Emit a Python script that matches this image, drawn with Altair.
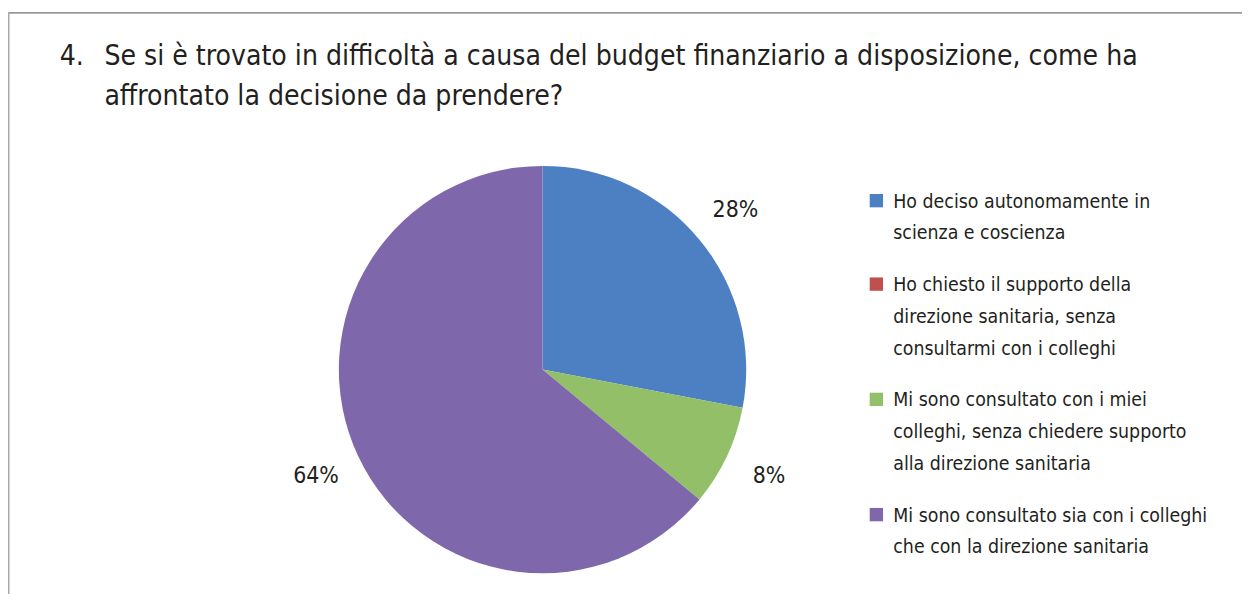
import altair as alt
import pandas as pd

# ---- data ----
title_num = "4."
title_lines = [
    "Se si è trovato in difficoltà a causa del budget finanziario a disposizione, come ha",
    "affrontato la decisione da prendere?",
]
categories = [
    "Ho deciso autonomamente in scienza e coscienza",
    "Ho chiesto il supporto della direzione sanitaria, senza consultarmi con i colleghi",
    "Mi sono consultato con i miei colleghi, senza chiedere supporto alla direzione sanitaria",
    "Mi sono consultato sia con i colleghi che con la direzione sanitaria",
]
legend_lines = [
    ["Ho deciso autonomamente in", "scienza e coscienza"],
    ["Ho chiesto il supporto della", "direzione sanitaria, senza", "consultarmi con i colleghi"],
    ["Mi sono consultato con i miei", "colleghi, senza chiedere supporto", "alla direzione sanitaria"],
    ["Mi sono consultato sia con i colleghi", "che con la direzione sanitaria"],
]
values = [28, 0, 8, 64]
colors = ["#4C80C2", "#C0504D", "#93BF68", "#7E67AA"]

# ---- layout / style ----
W, H = 1242, 588
FONT = "Liberation Sans Narrow, Arial Narrow, DejaVu Sans Condensed, sans-serif"
TXT = "#231f20"
CX, CY, R = 538, 362, 205
LEG_X, LEG_Y0, LEG_LH, LEG_GAP = 874, 199, 32, 20

pie_df = pd.DataFrame({
    "cat": categories,
    "value": values,
    "order": list(range(len(values))),
    "label": [f"{v}%" for v in values],
})

color_scale = alt.Scale(domain=categories, range=colors)

base = alt.Chart(pie_df).encode(
    theta=alt.Theta("value:Q", stack=True),
    order=alt.Order("order:Q"),
)

arcs = base.mark_arc(outerRadius=R).encode(
    color=alt.Color("cat:N", scale=color_scale, legend=None),
    x=alt.value(CX),
    y=alt.value(CY),
)

labels = base.transform_filter("datum.value > 0").mark_text(
    radius=252, font=FONT, fontSize=23, color=TXT
).encode(
    text="label:N",
    x=alt.value(CX),
    y=alt.value(CY),
)

# legend (manual, multi-line)
leg_rows = []
ycur = LEG_Y0
for cat, lines in zip(categories, legend_lines):
    leg_rows.append({"cat": cat, "text": "|".join(lines), "yb": ycur, "ys": ycur - 7})
    ycur += len(lines) * LEG_LH + LEG_GAP
leg_df = pd.DataFrame(leg_rows)

leg_sq = alt.Chart(leg_df).mark_square(size=180, opacity=1).encode(
    x=alt.value(LEG_X),
    y=alt.Y("ys:Q", scale=None),
    color=alt.Color("cat:N", scale=color_scale, legend=None),
)
leg_txt = alt.Chart(leg_df).transform_calculate(
    lines="split(datum.text, '|')"
).mark_text(
    align="left", baseline="alphabetic", font=FONT, fontSize=19.5,
    lineHeight=LEG_LH, color=TXT
).encode(
    x=alt.value(LEG_X + 17),
    y=alt.Y("yb:Q", scale=None),
    text="lines:N",
)

# title
title_df = pd.DataFrame({"t": [title_num] + title_lines,
                         "tx": [52, 97, 97],
                         "ty": [55, 55, 96]})
title = alt.Chart(title_df).mark_text(
    align="left", baseline="alphabetic", font=FONT, fontSize=28.3, color=TXT
).encode(
    x=alt.X("tx:Q", scale=None),
    y=alt.Y("ty:Q", scale=None),
    text="t:N",
)

# frame
one = pd.DataFrame({"a": [0]})
top_rule = alt.Chart(one).mark_rule(color="#9a9a9a", strokeWidth=2).encode(
    x=alt.value(0), x2=alt.value(W), y=alt.value(3)
)
left_rule = alt.Chart(one).mark_rule(color="#a8a8a8", strokeWidth=1.5).encode(
    x=alt.value(0.75), y=alt.value(2), y2=alt.value(H)
)

chart = alt.layer(
    top_rule, left_rule, arcs, labels, leg_sq, leg_txt, title
).properties(
    width=W, height=H, padding=0,
    autosize=alt.AutoSizeParams(type="none"),
).configure_view(strokeWidth=0)

chart.save("out.html", embed_options={"renderer": "svg", "actions": False})
